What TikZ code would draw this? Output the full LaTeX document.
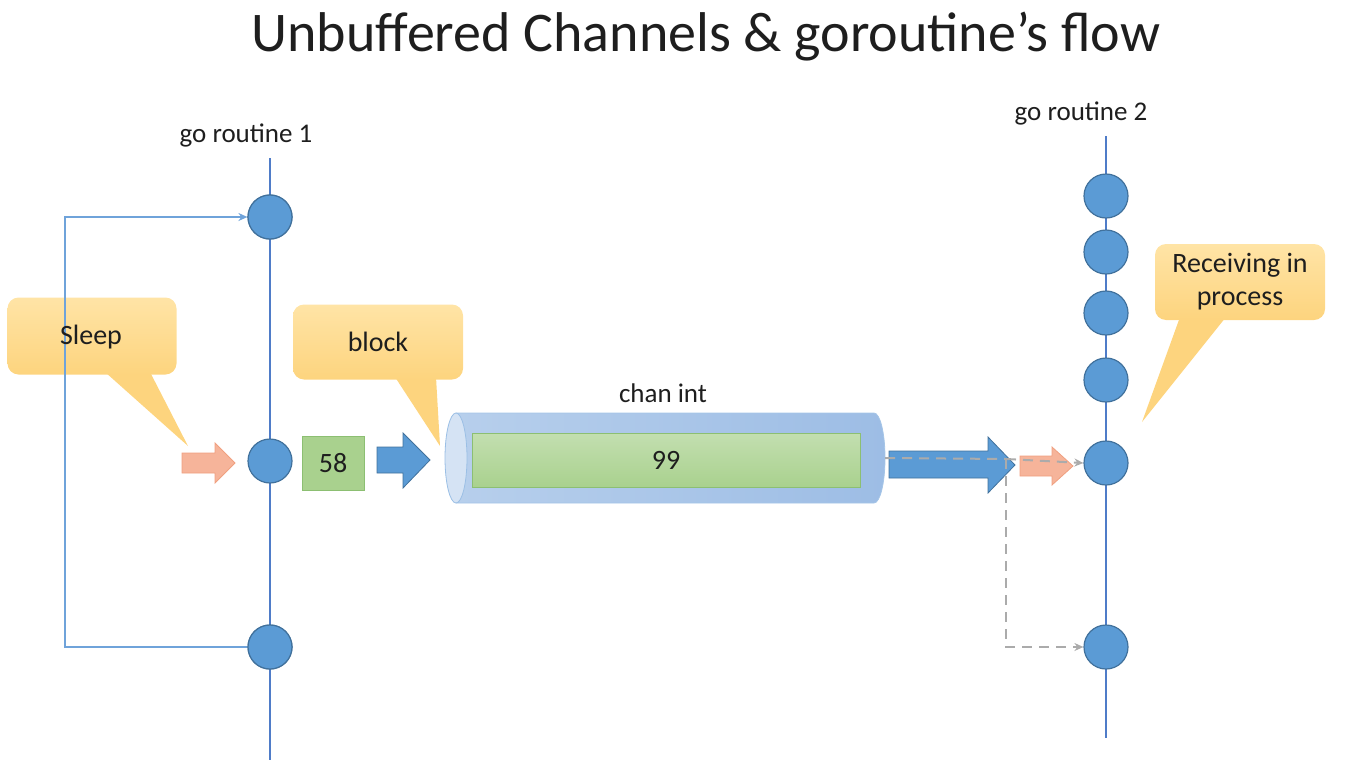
\documentclass[tikz,border=0pt]{standalone}
\usepackage{fontspec}
\setmainfont{Carlito}
\usetikzlibrary{arrows.meta}
\definecolor{dotblue}{HTML}{5B9BD5}
\definecolor{dotedge}{HTML}{41719C}
\definecolor{tline}{HTML}{4F7CC8}
\definecolor{loopblue}{HTML}{6FA3DA}
\definecolor{calltop}{HTML}{FFE4A6}
\definecolor{callbot}{HTML}{FDD47E}
\definecolor{pinkfill}{HTML}{F6B49A}
\definecolor{pinkedge}{HTML}{F0A080}
\definecolor{greenfill}{HTML}{A9D18E}
\definecolor{greenedge}{HTML}{8CBF72}
\definecolor{cylA}{HTML}{B7CFEC}
\definecolor{cylB}{HTML}{9DBDE5}
\definecolor{cylcap}{HTML}{D5E3F4}
\definecolor{dashgray}{HTML}{ABABAB}
\definecolor{txt}{HTML}{1E1E1E}
\tikzset{
  dot/.style={circle, fill=dotblue, draw=dotedge, line width=1.2pt, minimum size=44pt, inner sep=0pt},
  tl/.style={draw=tline, line width=2pt},
  callout/.style={rectangle, rounded corners=11pt, top color=calltop, bottom color=callbot, draw=none, text=txt, font=\fontsize{28}{33}\selectfont, align=center},
  tailfill/.style={fill=callbot, draw=none},
  label/.style={text=txt, font=\fontsize{27}{32}\selectfont},
  pinkarrow/.style={fill=pinkfill, draw=pinkedge, line width=0.8pt},
  bluearrow/.style={fill=dotblue, draw=dotedge, line width=0.8pt},
  loopline/.style={draw=loopblue, line width=2pt},
  dashline/.style={draw=dashgray, line width=2pt, dash pattern=on 10pt off 7pt},
  tip/.style={-{Stealth[length=9pt,width=8pt]}}
}
\begin{document}
\begin{tikzpicture}[x=1pt,y=-1pt]
\useasboundingbox (0,0) rectangle (1370,784);

% title
\node[text=txt, font=\fontsize{56}{64}\selectfont] (title) at (706,37) {Unbuffered Channels \& goroutine’s flow};

% timelines
\draw[tl] (270,158) -- (270,760);
\draw[tl] (1106,136) -- (1106,738);
\node[label] (g1) at (246,135) {go routine 1};
\node[label] (g2) at (1081,113) {go routine 2};

% Sleep callout
\fill[tailfill] (105,372) -- (150,372) -- (188,446) -- cycle;
\node[callout, minimum width=169pt, minimum height=77pt] (sleep) at (92,336) {};

% left dots and loop connector
\node[dot] (a1) at (270,217) {};
\node[dot] (a2) at (270,461) {};
\node[dot] (a3) at (270,647) {};
\coordinate (lb) at (65,647);
\coordinate (lt) at (65,217);
\draw[loopline, tip] (a3.west) -- (lb) -- (lt) -- (a1.west);
\node[dot] (a1) at (270,217) {};
\node[dot] (a3) at (270,647) {};
\node[text=txt, font=\fontsize{28}{33}\selectfont] (sleept) at (91,337) {Sleep};

% right dots
\node[dot] (b1) at (1106,196) {};
\node[dot] (b2) at (1106,252) {};
\node[dot] (b3) at (1106,313) {};
\node[dot] (b4) at (1106,380) {};
\node[dot] (b5) at (1106,463) {};
\node[dot] (b6) at (1106,647) {};

% block callout
\fill[tailfill] (395,377) -- (436,377) -- (440,446) -- cycle;
\node[callout, minimum width=170pt, minimum height=75pt] (block) at (378,342) {block};

% Receiving callout
\fill[tailfill] (1180,317) -- (1226,317) -- (1142,422) -- cycle;
\node[callout, minimum width=170pt, minimum height=76pt, inner sep=1pt] (recv) at (1240,282) {Receiving in\\process};

% pink arrow left
\path[pinkarrow] (182,453) -- (215,453) -- (215,443) -- (235,463) -- (215,483) -- (215,473) -- (182,473) -- cycle;

% green 58
\node[rectangle, fill=greenfill, draw=greenedge, line width=0.8pt, minimum width=62pt, minimum height=54pt, text=txt, font=\fontsize{28}{33}\selectfont] (v58) at (333,463) {58};

% blue arrow small
\path[bluearrow] (377,447) -- (403,447) -- (403,433) -- (430,460) -- (403,488) -- (403,473) -- (377,473) -- cycle;

% cylinder
\path[left color=cylA, right color=cylB, draw=cylA!80!dotblue, line width=0.8pt]
  (456,413) -- (874,413) arc[start angle=90, end angle=-90, x radius=11pt, y radius=45pt] -- (456,503) -- cycle;
\path[fill=cylcap, draw=cylA!70!dotblue, line width=0.8pt] (456,458) ellipse[x radius=11pt, y radius=45pt];
\node[rectangle, top color=greenfill!70!white, bottom color=greenfill, draw=greenedge, line width=0.8pt, minimum width=388pt, minimum height=54pt, text=txt, font=\fontsize{28}{33}\selectfont] (v99) at (666,460) {99};
\coordinate (cylE) at (885,458);
\node[label] (chan) at (663,393) {chan int};

% big blue arrow
\path[bluearrow] (889,451) -- (988,451) -- (988,437) -- (1015,465) -- (988,493) -- (988,478) -- (889,478) -- cycle;

% small pink arrow right
\path[pinkarrow] (1020,456) -- (1052,456) -- (1052,447) -- (1073,466) -- (1052,485) -- (1052,476) -- (1020,476) -- cycle;

% dashed connectors
\coordinate (dj) at (1006,459);
\coordinate (dl) at (1006,647);
\draw[dashline] (cylE) -- (dj);
\draw[dashline, tip] (dj) -- (b5.west);
\draw[dashline, tip] (dj) -- (dl) -- (b6.west);

\end{tikzpicture}
\end{document}
